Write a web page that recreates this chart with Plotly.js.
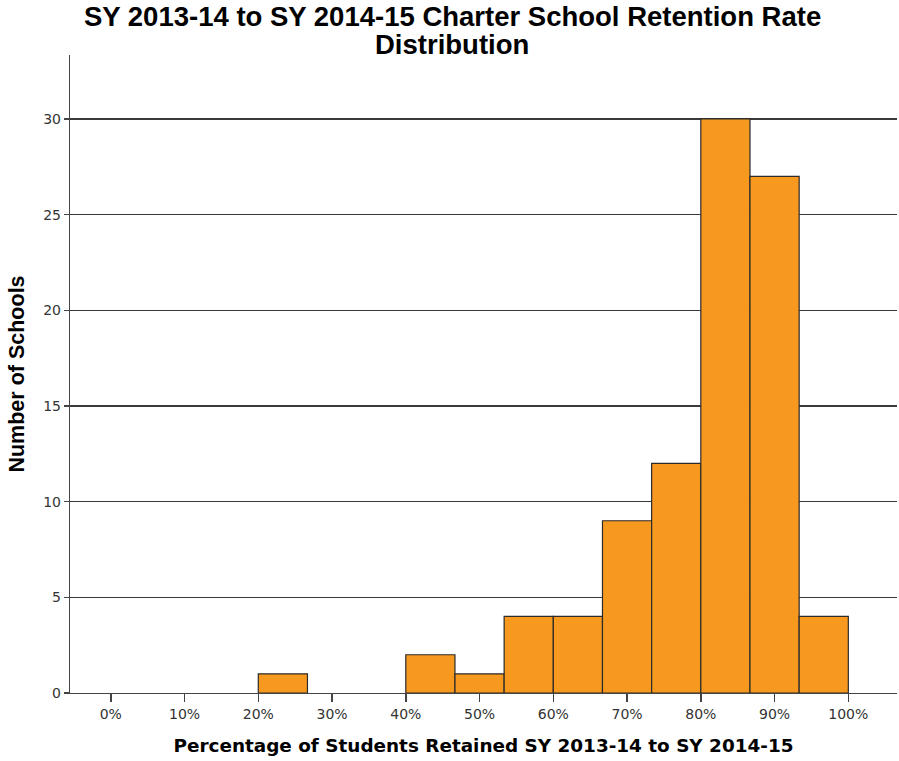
<!DOCTYPE html>
<html>
<head>
<meta charset="utf-8">
<script src="https://cdn.plot.ly/plotly-3.0.1.min.js"></script>
<style>html,body{margin:0;padding:0;background:#fff;}#chart{width:899px;height:761px;}</style>
</head>
<body>
<div id="chart"></div>
<script>
// Histogram bins (percent retained) and number of schools in each
var binStart = [20, 40, 46.667, 53.333, 60, 66.667, 73.333, 80, 86.667, 93.333];
var binWidth = 6.667;
var schoolCounts = [1, 2, 1, 4, 4, 9, 12, 30, 27, 4];
var xTickVals = [0, 10, 20, 30, 40, 50, 60, 70, 80, 90, 100];
var xTickText = ['0%', '10%', '20%', '30%', '40%', '50%', '60%', '70%', '80%', '90%', '100%'];
var yTickVals = [0, 5, 10, 15, 20, 25, 30];
var titleLines = ['SY 2013-14 to SY 2014-15 Charter School Retention Rate', 'Distribution'];

var trace = {
  type: 'bar',
  x: binStart,
  y: schoolCounts,
  width: binStart.map(function(){return binWidth;}),
  offset: 0,
  marker: {color: '#F7991F', line: {color: '#2b2b2b', width: 1.2}},
  hoverinfo: 'x+y'
};

var arialB = 'Liberation Sans, Arial, sans-serif';
var tahoma = 'DejaVu Sans, Verdana, sans-serif';

var layout = {
  width: 899, height: 761,
  margin: {l: 70, r: 2, t: 55, b: 67.5},
  paper_bgcolor: '#ffffff', plot_bgcolor: '#ffffff',
  showlegend: false,
  annotations: [
    {text: '<b>' + titleLines[0] + '</b>', xref: 'paper', yref: 'paper', x: 0.462, y: 1.0611,
     xanchor: 'center', yanchor: 'middle', showarrow: false,
     font: {family: arialB, size: 27.5, color: '#000'}},
    {text: '<b>' + titleLines[1] + '</b>', xref: 'paper', yref: 'paper', x: 0.462, y: 1.0172,
     xanchor: 'center', yanchor: 'middle', showarrow: false,
     font: {family: arialB, size: 27.5, color: '#000'}}
  ],
  xaxis: {
    range: [-5.53, 106.6],
    tickvals: xTickVals, ticktext: xTickText,
    ticks: 'outside', ticklen: 8, tickwidth: 1.5, tickcolor: '#444',
    showline: true, linecolor: '#444', linewidth: 1.2,
    showgrid: false, zeroline: false,
    tickfont: {family: tahoma, size: 14, color: '#333'},
    title: {text: '<b>Percentage of Students Retained SY 2013-14 to SY 2014-15</b>',
      font: {family: tahoma, size: 18.4, color: '#000'}, standoff: 18}
  },
  yaxis: {
    range: [0, 33.34],
    tickvals: yTickVals,
    ticks: 'outside', ticklen: 5, tickwidth: 1.2, tickcolor: '#444',
    showline: true, linecolor: '#444', linewidth: 1.2,
    showgrid: true, gridcolor: '#3a3a3a', gridwidth: 1.2,
    zeroline: false,
    tickfont: {family: tahoma, size: 14, color: '#333'},
    title: {text: '<b>Number of Schools</b>',
      font: {family: arialB, size: 21.5, color: '#000'}, standoff: 12}
  },
  bargap: 0
};

Plotly.newPlot('chart', [trace], layout, {displayModeBar: false, staticPlot: true});
</script>
</body>
</html>
